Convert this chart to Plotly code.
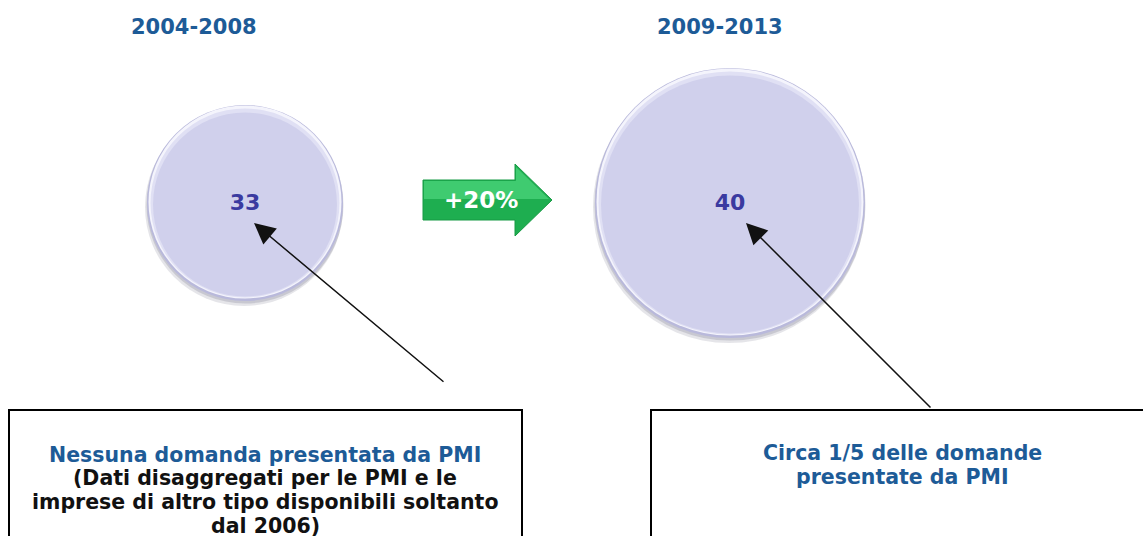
import numpy as np
import plotly.graph_objects as go

# ---- data ----
periods = ["2004-2008", "2009-2013"]
values = [33, 40]
growth_label = "+20%"
notes_left = ["Nessuna domanda presentata da PMI",
              "(Dati disaggregati per le PMI e le",
              "imprese di altro tipo disponibili soltanto",
              "dal 2006)"]
notes_left_colors = ["#1d5b97", "#111111", "#111111", "#111111"]
notes_right = ["Circa 1/5 delle domande", "presentate da PMI"]

# ---- layout constants (pixels, y downward) ----
W, H = 1143, 536
cx = [245, 730]
cy = [203, 203]
radius = [98, 135]
title_x = [194, 720]
title_y = 27
FONT = "DejaVu Sans"

fig = go.Figure()
shapes = []

def circ(x, y, r, fill, layer="below"):
    return dict(type="circle", xref="x", yref="y", x0=x - r, x1=x + r,
                y0=y - r, y1=y + r, fillcolor=fill, line=dict(width=0), layer=layer)

for x, y, r in zip(cx, cy, radius):
    shapes.append(circ(x - 1, y + 4, r + 1, "rgba(70,70,100,0.14)"))
    shapes.append(circ(x, y + 2, r + 0.5, "rgba(70,70,100,0.18)"))
    shapes.append(circ(x, y, r, "#b9b9db"))
    shapes.append(circ(x, y - 1, r - 1.5, "#f4f4fc"))
    shapes.append(circ(x, y, r - 3.5, "#e0e0f4"))

# bubble bodies
fig.add_trace(go.Scatter(
    x=cx, y=[c + 1.5 for c in cy], mode="markers+text",
    marker=dict(size=[2 * (r - 6) for r in radius], color="#d0d0ec",
                line=dict(width=0), opacity=1),
    text=[str(v) for v in values], textposition="middle center",
    textfont=dict(family=FONT, size=22, color="#3a3aa0", weight="bold"),
    hoverinfo="skip", showlegend=False, cliponaxis=False))

# green arrow
ax0, ax1, ax2 = 423, 515, 552
ay_mid = 200
body_half, head_half = 20, 36
arrow_pts = [(ax0, ay_mid - body_half), (ax1, ay_mid - body_half), (ax1, ay_mid - head_half),
             (ax2, ay_mid), (ax1, ay_mid + head_half), (ax1, ay_mid + body_half),
             (ax0, ay_mid + body_half)]
path = "M" + " L".join(f"{px},{py}" for px, py in arrow_pts) + " Z"
shapes.append(dict(type="path", path=path, xref="x", yref="y", fillcolor="#1eae50",
                   line=dict(color="#179a45", width=1), layer="below"))
top_pts = [(ax0 + 1, ay_mid - body_half + 1), (ax1 + 1, ay_mid - body_half + 1),
           (ax1 + 1, ay_mid - head_half + 3), (ax2 - 3, ay_mid - 1), (ax0 + 1, ay_mid - 1)]
path2 = "M" + " L".join(f"{px},{py}" for px, py in top_pts) + " Z"
shapes.append(dict(type="path", path=path2, xref="x", yref="y", fillcolor="#3fcb70",
                   line=dict(width=0), layer="below"))

# note boxes
shapes.append(dict(type="rect", xref="x", yref="y", x0=9, x1=522, y0=410, y1=560,
                   line=dict(color="black", width=2), fillcolor="rgba(0,0,0,0)", layer="above"))
shapes.append(dict(type="rect", xref="x", yref="y", x0=651, x1=1160, y0=410, y1=560,
                   line=dict(color="black", width=2), fillcolor="rgba(0,0,0,0)", layer="above"))

annotations = []
for t, x in zip(periods, title_x):
    annotations.append(dict(x=x, y=title_y, xref="x", yref="y", text=t, showarrow=False,
                            font=dict(family=FONT, size=21, color="#1d5b97", weight="bold"),
                            xanchor="center", yanchor="middle"))
annotations.append(dict(x=481, y=ay_mid, xref="x", yref="y", text=growth_label, showarrow=False,
                        font=dict(family=FONT, size=23, color="white", weight="bold"),
                        xanchor="center", yanchor="middle"))
for i, (t, c) in enumerate(zip(notes_left, notes_left_colors)):
    annotations.append(dict(x=265, y=454.5 + 23.7 * i, xref="x", yref="y", text=t, showarrow=False,
                            font=dict(family=FONT, size=20.5, color=c, weight="bold"),
                            xanchor="center", yanchor="middle"))
for i, t in enumerate(notes_right):
    annotations.append(dict(x=902, y=453 + 24 * i, xref="x", yref="y", text=t, showarrow=False,
                            font=dict(family=FONT, size=20.5, color="#1d5b97", weight="bold"),
                            xanchor="center", yanchor="middle"))
# pointer arrows
for (tx, ty), (sx, sy) in [((254, 223), (445, 383)), ((746, 223), (932, 409))]:
    annotations.append(dict(x=tx, y=ty, ax=sx, ay=sy, xref="x", yref="y", axref="x", ayref="y",
                            text="", showarrow=True, arrowhead=2, arrowsize=2.8, arrowwidth=1.5,
                            arrowcolor="#111111"))

fig.update_layout(
    width=W, height=H, margin=dict(l=0, r=0, t=0, b=0),
    paper_bgcolor="white", plot_bgcolor="white",
    xaxis=dict(range=[0, W], visible=False, fixedrange=True),
    yaxis=dict(range=[H, 0], visible=False, fixedrange=True),
    shapes=shapes, annotations=annotations, showlegend=False)

fig.write_html("out.html", config={"displayModeBar": False},
               post_script="document.body.style.margin='0';document.body.style.overflow='hidden';")
